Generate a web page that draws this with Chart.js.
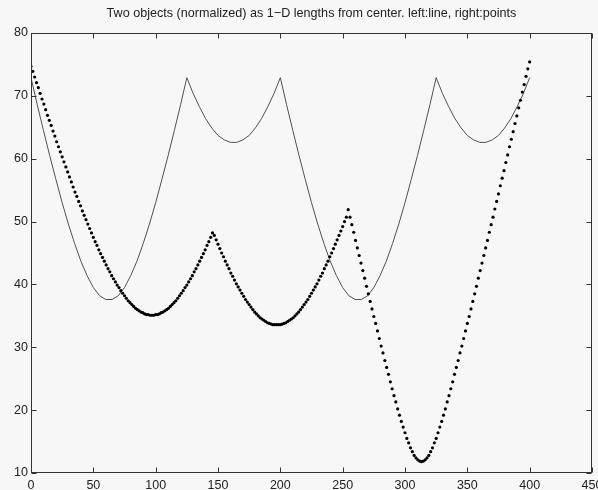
<!DOCTYPE html>
<html>
<head>
<meta charset="utf-8">
<script src="https://cdn.jsdelivr.net/npm/chart.js"></script>
<style>
html, body { margin: 0; padding: 0; background: #f7f7f7; }
#wrap { width: 598px; height: 490px; }
</style>
</head>
<body>
<div id="wrap"><canvas id="myChart" width="598" height="490"></canvas></div>
<script>
'use strict';

let titleText = 'Two objects (normalized) as 1\u2212D lengths from center. left:line, right:points';

let xTicks = [0, 50, 100, 150, 200, 250, 300, 350, 400, 450];
let yTicks = [10, 20, 30, 40, 50, 60, 70, 80];

// left object, one value every 5 along x
let lineStep = 5;
let lineVals = [
    72.9, 68.6, 64.5, 60.5, 56.7, 53.0, 49.6, 46.5, 43.7, 41.4, 39.5, 38.2, 37.6,
    37.6, 38.2, 39.5, 41.4, 43.7, 46.5, 49.6, 53.0, 56.7, 60.5, 64.5, 68.6, 72.9,
    70.4, 68.3, 66.4, 64.9, 63.7, 63.0, 62.6, 62.6, 63.0, 63.7, 64.9, 66.4, 68.3, 70.4, 72.9,
    68.6, 64.5, 60.5, 56.7, 53.0, 49.6, 46.5, 43.7, 41.4, 39.5, 38.2, 37.6,
    37.6, 38.2, 39.5, 41.4, 43.7, 46.5, 49.6, 53.0, 56.7, 60.5, 64.5, 68.6, 72.9,
    70.4, 68.3, 66.4, 64.9, 63.7, 63.0, 62.6, 62.6, 63.0, 63.7, 64.9, 66.4, 68.3, 70.4, 72.9
];

// right object, 273 samples spread over 0..400
let pointStep = 400 / 272;
let pointVals = [
    74.7, 73.9, 73.0, 72.1, 71.3, 70.4, 69.5, 68.7, 67.8, 66.9,
    66.1, 65.3, 64.4, 63.6, 62.7, 61.9, 61.1, 60.3, 59.5, 58.7,
    57.9, 57.1, 56.3, 55.5, 54.7, 54.0, 53.2, 52.5, 51.7, 51.0,
    50.3, 49.6, 48.9, 48.2, 47.5, 46.8, 46.2, 45.5, 44.9, 44.3,
    43.7, 43.1, 42.5, 42.0, 41.4, 40.9, 40.4, 39.9, 39.5, 39.0,
    38.6, 38.2, 37.8, 37.4, 37.1, 36.8, 36.5, 36.2, 36.0, 35.8,
    35.6, 35.5, 35.3, 35.2, 35.2, 35.1, 35.1, 35.1, 35.2, 35.2,
    35.3, 35.5, 35.6, 35.8, 36.0, 36.2, 36.5, 36.8, 37.1, 37.4,
    37.8, 38.2, 38.6, 39.0, 39.5, 39.9, 40.4, 40.9, 41.4, 42.0,
    42.5, 43.1, 43.7, 44.3, 44.9, 45.5, 46.2, 46.8, 47.5, 48.2,
    47.8, 47.1, 46.4, 45.7, 45.0, 44.4, 43.7, 43.1, 42.5, 41.8,
    41.3, 40.7, 40.1, 39.6, 39.1, 38.6, 38.1, 37.6, 37.2, 36.8,
    36.4, 36.0, 35.6, 35.3, 35.0, 34.7, 34.5, 34.3, 34.1, 33.9,
    33.8, 33.7, 33.6, 33.6, 33.6, 33.6, 33.6, 33.7, 33.8, 33.9,
    34.1, 34.3, 34.5, 34.7, 35.0, 35.3, 35.6, 36.0, 36.4, 36.8,
    37.2, 37.6, 38.1, 38.6, 39.1, 39.6, 40.1, 40.7, 41.3, 41.8,
    42.5, 43.1, 43.7, 44.4, 45.0, 45.7, 46.4, 47.1, 47.8, 48.5,
    49.2, 50.0, 50.7, 51.9, 50.7, 49.5, 48.3, 47.0, 45.8, 44.6,
    43.4, 42.2, 41.0, 39.7, 38.5, 37.3, 36.1, 34.9, 33.8, 32.6,
    31.4, 30.2, 29.1, 27.9, 26.8, 25.7, 24.5, 23.4, 22.3, 21.3,
    20.2, 19.2, 18.2, 17.3, 16.4, 15.5, 14.8, 14.0, 13.4, 12.8,
    12.4, 12.1, 11.9, 11.8, 11.9, 12.1, 12.4, 12.8, 13.4, 14.0,
    14.8, 15.5, 16.4, 17.3, 18.2, 19.2, 20.2, 21.3, 22.3, 23.4,
    24.5, 25.7, 26.8, 27.9, 29.1, 30.2, 31.4, 32.6, 33.8, 34.9,
    36.1, 37.3, 38.5, 39.7, 41.0, 42.2, 43.4, 44.6, 45.8, 47.0,
    48.3, 49.5, 50.7, 52.0, 53.2, 54.4, 55.7, 56.9, 58.1, 59.4,
    60.6, 61.9, 63.1, 64.3, 65.6, 66.8, 68.1, 69.3, 70.6, 71.8,
    73.1, 74.3, 75.4
];

let fontFam = '"Liberation Sans", Arial, Helvetica, sans-serif';

function toPoints(vals, step){
    let out = [];
    for(let i = 0; i < vals.length; i++){
        out.push({x: i * step, y: vals[i]});
    }
    return out;
}

// matlab style box: frame with inward ticks on all four sides, plus title
let boxPlugin = {
    id: 'box',
    afterDraw(chart){
        let ctx = chart.ctx;
        let a = chart.chartArea;
        let xs = chart.scales.x;
        let ys = chart.scales.y;
        let tl = 5;
        ctx.save();
        ctx.strokeStyle = '#333';
        ctx.lineWidth = 1;
        let l = Math.round(a.left) + 0.5, r = Math.round(a.right) - 0.5;
        let t = Math.round(a.top) + 0.5, b = Math.round(a.bottom) - 0.5;
        ctx.strokeRect(l, t, r - l, b - t);
        ctx.beginPath();
        xTicks.forEach(function(v){
            let px = Math.round(xs.getPixelForValue(v)) + 0.5;
            ctx.moveTo(px, b); ctx.lineTo(px, b - tl);
            ctx.moveTo(px, t); ctx.lineTo(px, t + tl);
        });
        yTicks.forEach(function(v){
            let py = Math.round(ys.getPixelForValue(v)) + 0.5;
            ctx.moveTo(l, py); ctx.lineTo(l + tl, py);
            ctx.moveTo(r, py); ctx.lineTo(r - tl, py);
        });
        ctx.stroke();

        ctx.fillStyle = '#222';
        ctx.font = '12.6px ' + fontFam;
        ctx.textAlign = 'center';
        ctx.textBaseline = 'middle';
        ctx.fillText(titleText, (a.left + a.right) / 2, 14);
        ctx.restore();
    }
};

let ctx = document.getElementById('myChart').getContext('2d');
let chart = new Chart(ctx, {
    type: 'scatter',
    data: {
        datasets: [{
            label: 'right',
            data: toPoints(pointVals, pointStep),
            showLine: false,
            pointRadius: 1.6,
            pointBorderWidth: 0,
            pointBackgroundColor: '#000',
            order: 0
        }, {
            label: 'left',
            data: toPoints(lineVals, lineStep),
            showLine: true,
            pointRadius: 0,
            borderColor: '#505050',
            borderWidth: 1,
            tension: 0,
            order: 1
        }]
    },
    options: {
        responsive: false,
        animation: false,
        devicePixelRatio: 1,
        layout: { padding: { top: 33, right: 6, left: 0, bottom: 0 } },
        plugins: {
            legend: { display: false },
            tooltip: { enabled: false },
            title: { display: false }
        },
        scales: {
            x: {
                type: 'linear',
                min: xTicks[0],
                max: xTicks[xTicks.length - 1],
                afterBuildTicks(s){ s.ticks = xTicks.map(function(v){ return {value: v}; }); },
                ticks: { color: '#222', font: { family: fontFam, size: 12.5 }, padding: 5, maxRotation: 0, autoSkip: false },
                grid: { display: false, drawTicks: false },
                border: { display: false },
                afterFit(s){ s.height = 17; s.paddingLeft = 0; s.paddingRight = 0; }
            },
            y: {
                type: 'linear',
                min: yTicks[0],
                max: yTicks[yTicks.length - 1],
                afterBuildTicks(s){ s.ticks = yTicks.map(function(v){ return {value: v}; }); },
                ticks: { color: '#222', font: { family: fontFam, size: 12.5 }, padding: 3 },
                grid: { display: false, drawTicks: false },
                border: { display: false },
                afterFit(s){ s.width = 31; s.paddingTop = 0; s.paddingBottom = 0; }
            }
        }
    },
    plugins: [boxPlugin]
});
</script>
</body>
</html>
